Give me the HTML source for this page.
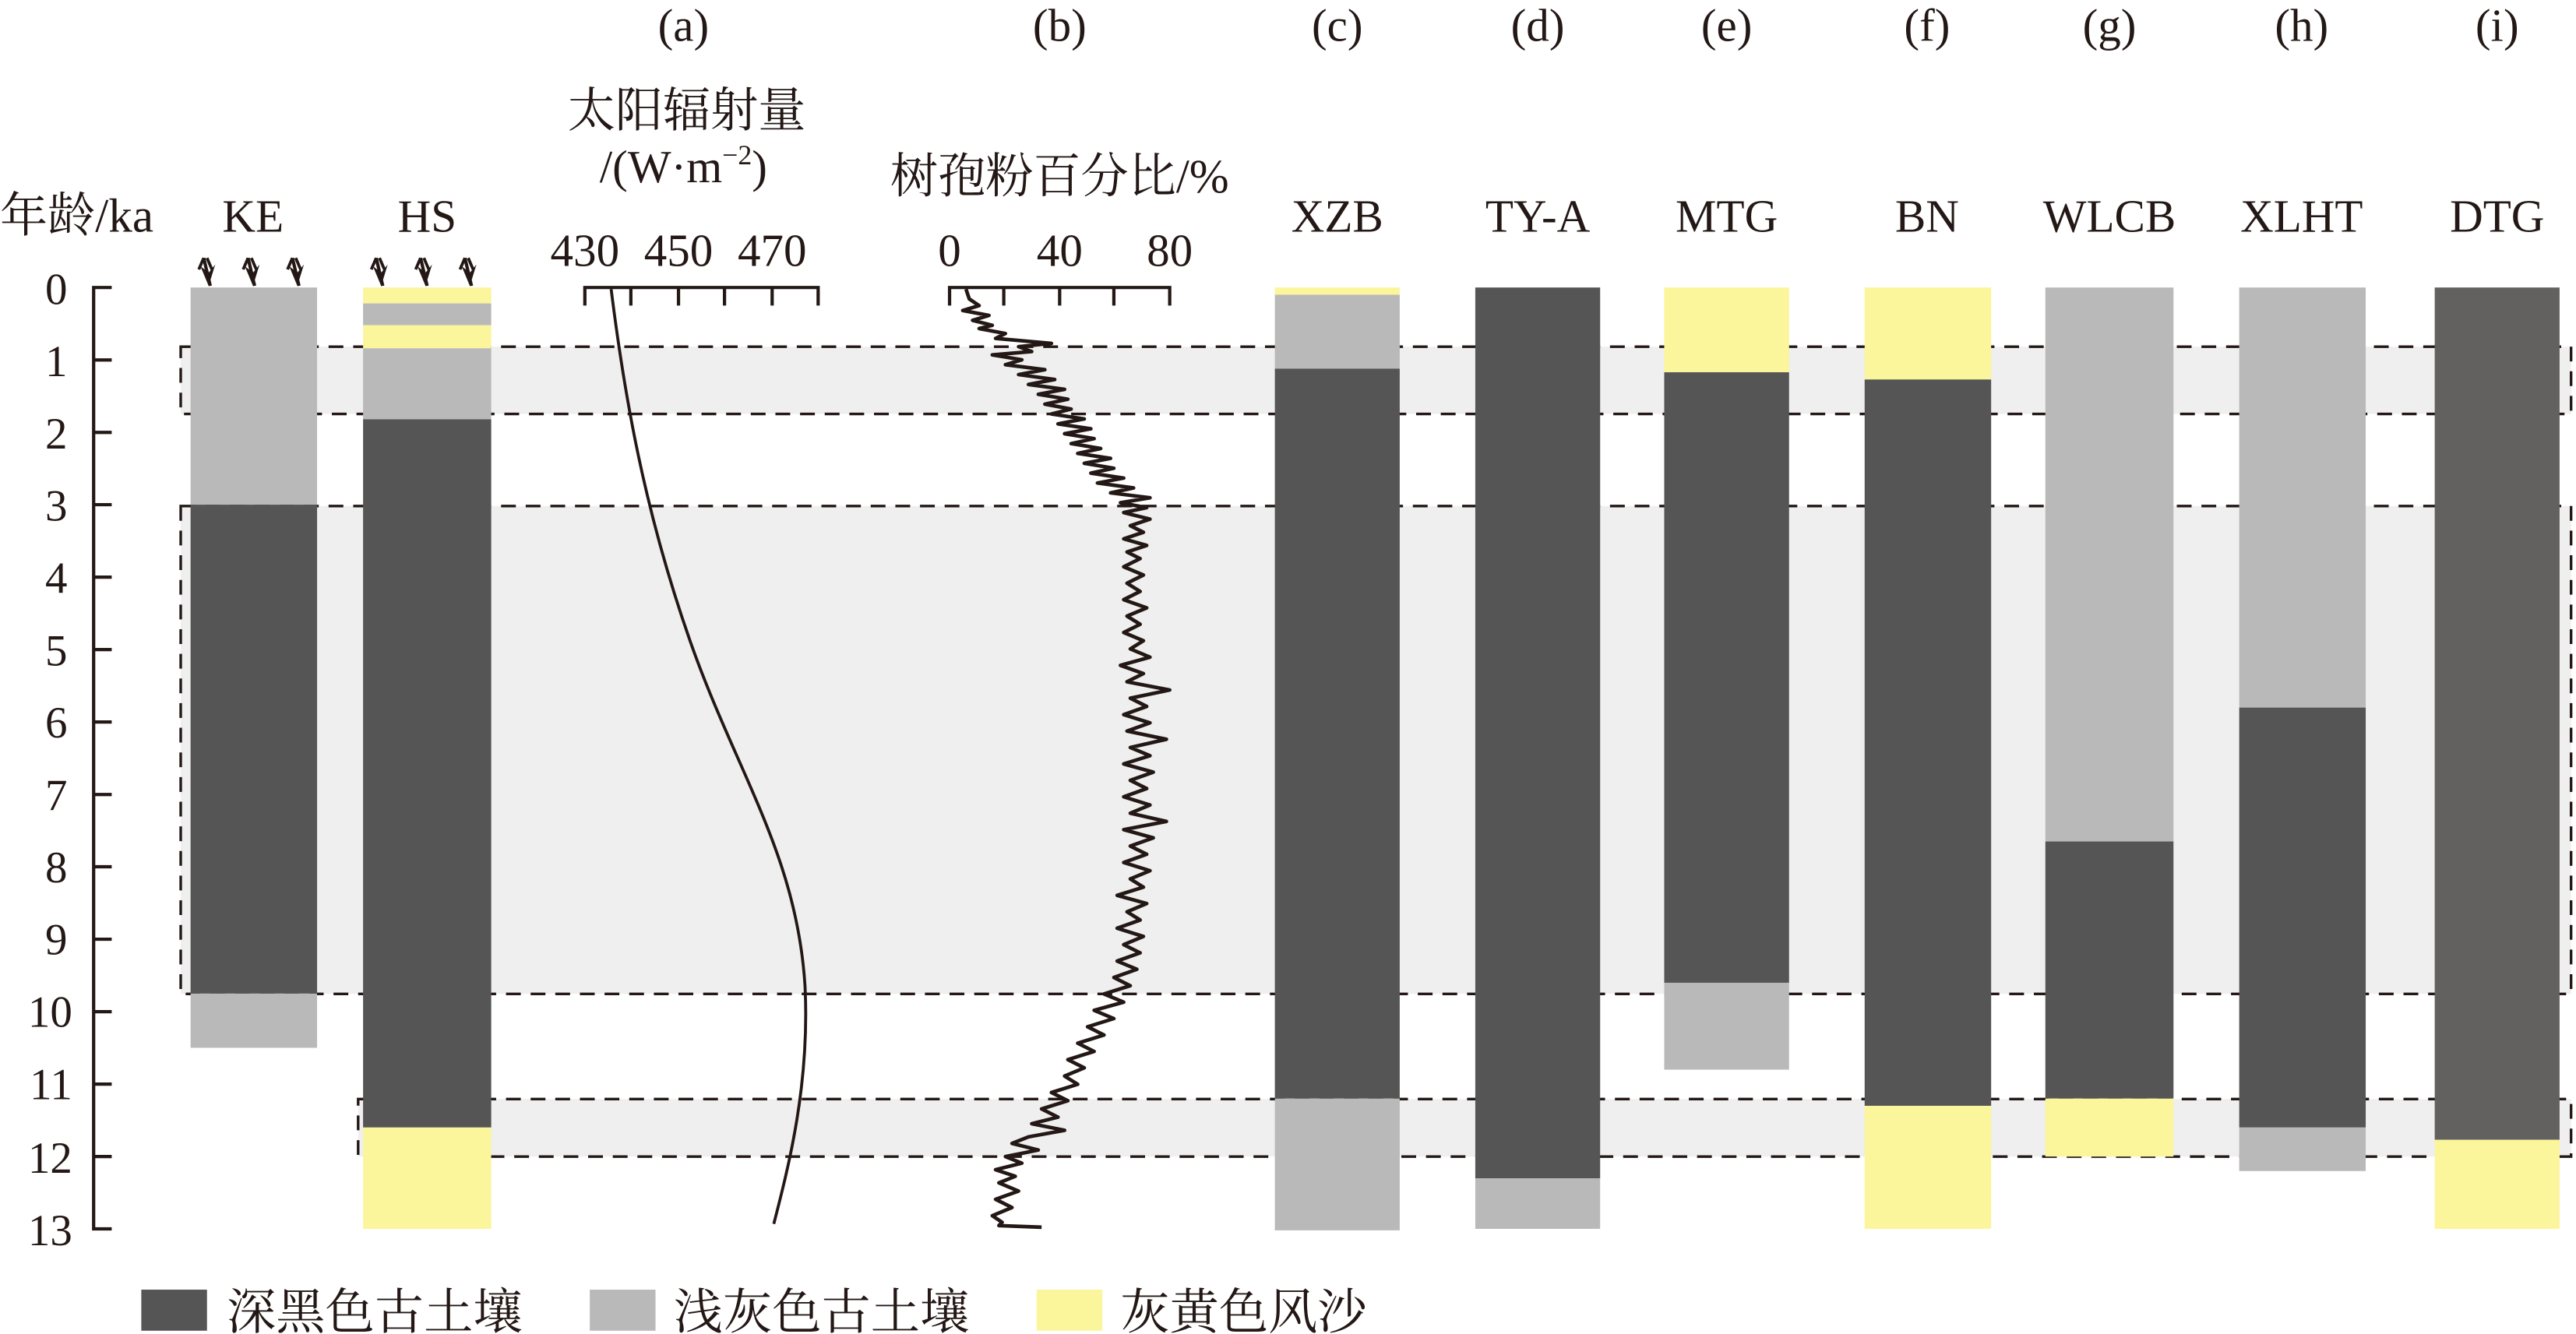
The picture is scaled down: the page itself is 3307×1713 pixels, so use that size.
<!DOCTYPE html>
<html><head><meta charset="utf-8"><style>
html,body{margin:0;padding:0;background:#fff}
svg{display:block}
text{font-family:"Liberation Serif","Noto Serif CJK SC",serif;fill:#231815}
</style></head><body>
<svg width="3307" height="1713" viewBox="0 0 1568 812" preserveAspectRatio="none" xmlns="http://www.w3.org/2000/svg">
<defs>
<g id="ar"><path d="M-3,0 L1,17" stroke="#231815" stroke-width="2" fill="none"/><path d="M-5,5 L0,17 L4,4 L0,9Z" fill="#231815"/><path d="M-3,0 l-3,7 M-1,0 l3,7" stroke="#231815" stroke-width="1.8" fill="none"/></g>
</defs>
<g fill="#efefef" stroke="#231815" stroke-width="1.6" stroke-dasharray="9,6">
<rect x="110" y="211" width="1455" height="41"/>
<rect x="110" y="308" width="1455" height="297"/>
<rect x="218" y="669" width="1347" height="35"/>
</g>
<rect x="116" y="175" width="77" height="132.2" fill="#b9b9b9"/>
<rect x="116" y="307.2" width="77" height="297.6" fill="#555"/>
<rect x="116" y="604.8" width="77" height="33" fill="#b9b9b9"/>

<rect x="221" y="175" width="78" height="9.7" fill="#fbf59b"/>
<rect x="221" y="184.7" width="78" height="13.2" fill="#b9b9b9"/>
<rect x="221" y="197.9" width="78" height="14.1" fill="#fbf59b"/>
<rect x="221" y="212" width="78" height="43.2" fill="#b9b9b9"/>
<rect x="221" y="255.2" width="78" height="431.1" fill="#555"/>
<rect x="221" y="686.3" width="78" height="61.7" fill="#fbf59b"/>

<rect x="776" y="175" width="76" height="4.4" fill="#fbf59b"/>
<rect x="776" y="179.4" width="76" height="45" fill="#b9b9b9"/>
<rect x="776" y="224.4" width="76" height="444.3" fill="#555"/>
<rect x="776" y="668.7" width="76" height="80.2" fill="#b9b9b9"/>

<rect x="898" y="175" width="76" height="542.2" fill="#555"/>
<rect x="898" y="717.2" width="76" height="30.8" fill="#b9b9b9"/>

<rect x="1013" y="175" width="76" height="51.6" fill="#fbf59b"/>
<rect x="1013" y="226.6" width="76" height="371.6" fill="#555"/>
<rect x="1013" y="598.2" width="76" height="52.9" fill="#b9b9b9"/>

<rect x="1135" y="175" width="77" height="56" fill="#fbf59b"/>
<rect x="1135" y="231" width="77" height="442.1" fill="#555"/>
<rect x="1135" y="673.1" width="77" height="74.9" fill="#fbf59b"/>

<rect x="1245" y="175" width="78" height="337.2" fill="#b9b9b9"/>
<rect x="1245" y="512.2" width="78" height="156.5" fill="#555"/>
<rect x="1245" y="668.7" width="78" height="35.3" fill="#fbf59b"/>

<rect x="1363" y="175" width="77" height="255.7" fill="#b9b9b9"/>
<rect x="1363" y="430.7" width="77" height="255.6" fill="#555"/>
<rect x="1363" y="686.3" width="77" height="26.5" fill="#b9b9b9"/>

<rect x="1482" y="175" width="76" height="518.8" fill="#636060"/>
<rect x="1482" y="693.8" width="76" height="54.2" fill="#fbf59b"/>

<path stroke="#231815" stroke-width="2" fill="none" d="M68,175H57V748H68 M57,219.1H68 M57,263.2H68 M57,307.2H68 M57,351.3H68 M57,395.4H68 M57,439.5H68 M57,483.6H68 M57,527.6H68 M57,571.7H68 M57,615.8H68 M57,659.9H68 M57,704H68"/>
<g font-size="27" text-anchor="end">
<text x="41" y="185">0</text><text x="41" y="229">1</text><text x="41" y="273">2</text><text x="41" y="317">3</text>
<text x="41" y="361">4</text><text x="41" y="405">5</text><text x="41" y="449">6</text><text x="41" y="493">7</text>
<text x="41" y="537">8</text><text x="41" y="581">9</text><text x="44" y="625">10</text><text x="44" y="669">11</text>
<text x="44" y="714">12</text><text x="44" y="758">13</text>
</g>
<text x="0" y="141" font-size="29">年龄/ka</text>
<g font-size="28" text-anchor="middle">
<text x="154" y="141">KE</text><text x="260" y="141">HS</text>
<text x="416" y="25">(a)</text><text x="645" y="25">(b)</text><text x="814" y="25">(c)</text>
<text x="936" y="25">(d)</text><text x="1051" y="25">(e)</text><text x="1173" y="25">(f)</text>
<text x="1284" y="25">(g)</text><text x="1401" y="25">(h)</text><text x="1520" y="25">(i)</text>
<text x="418" y="77" font-size="29">太阳辐射量</text>
<text x="416" y="111">/(W·m<tspan font-size="17" dy="-11">−2</tspan><tspan dy="11">)</tspan></text>
<text x="645" y="117" font-size="29">树孢粉百分比/%</text>
<text x="814" y="141">XZB</text><text x="936" y="141">TY-A</text><text x="1051" y="141">MTG</text>
<text x="1173" y="141">BN</text><text x="1284" y="141">WLCB</text><text x="1401" y="141">XLHT</text><text x="1520" y="141">DTG</text>
<text x="356" y="162">430</text><text x="413" y="162">450</text><text x="470" y="162">470</text>
<text x="578" y="162">0</text><text x="645" y="162">40</text><text x="712" y="162">80</text>
</g>
<g stroke="#231815" stroke-width="2" fill="none">
<path d="M356,186V175H498V186 M384,175V186 M413,175V186 M441,175V186 M470,175V186"/>
<path d="M578,186V175H712V186 M611,175V186 M645,175V186 M678,175V186"/>
<path d="M372,176 C380,240 392,310 420,390 C448,470 485,520 490,600 C493,660 480,710 471,745" stroke-width="1.8"/>
<path stroke-width="2.2" stroke-linejoin="round" d="M588,176 L590,182 596,186 586,189 602,192 592,195 604,198 596,200 612,203 606,206 640,209 620,211 628,214 604,216 622,219 612,222 636,225 620,228 642,231 626,234 648,237 632,240 650,243 636,246 652,249 640,252 660,255 644,258 664,261 648,264 666,267 652,270 670,273 656,276 676,279 660,282 678,285 664,288 684,291 668,294 690,297 676,300 700,303 682,306 698,309 684,312 700,316 688,320 696,324 684,328 698,332 686,336 694,340 684,345 696,350 686,355 694,360 684,365 698,370 686,375 694,380 684,385 696,390 688,395 700,400 682,405 696,410 686,415 712,420 688,425 698,430 684,435 700,440 686,445 710,450 688,455 700,460 684,465 702,470 688,475 698,480 684,485 700,490 688,495 710,500 684,505 702,510 688,515 698,520 684,525 700,530 688,535 696,540 680,545 698,550 686,555 694,560 680,565 696,570 684,575 694,580 680,585 692,590 678,595 688,600 672,605 684,610 666,615 678,620 662,625 672,630 656,635 666,640 650,645 660,650 648,655 656,660 640,665 650,670 634,675 644,680 628,684 648,688 626,692 616,696 632,700 612,704 622,708 606,712 618,716 608,720 620,725 606,730 616,735 604,740 610,744 608,746 634,747"/>
</g>
<use href="#ar" x="127" y="157"/><use href="#ar" x="154" y="157"/><use href="#ar" x="181" y="157"/>
<use href="#ar" x="232" y="157"/><use href="#ar" x="259" y="157"/><use href="#ar" x="286" y="157"/>
<rect x="86" y="785" width="40" height="25" fill="#555"/>
<rect x="359" y="785" width="40" height="25" fill="#b9b9b9"/>
<rect x="631" y="785" width="40" height="25" fill="#fbf59b"/>
<g font-size="30"><text x="138" y="809">深黑色古土壤</text><text x="410" y="809">浅灰色古土壤</text><text x="682" y="809">灰黄色风沙</text></g>
</svg>
</body></html>
